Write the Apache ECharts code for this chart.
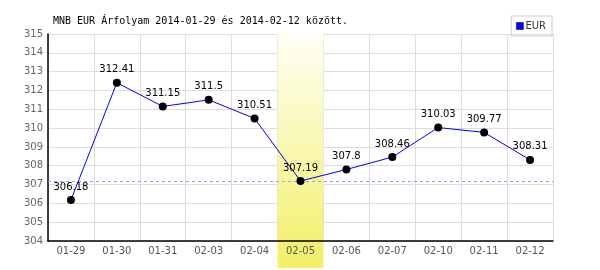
<!DOCTYPE html>
<html><head><meta charset="utf-8">
<script src="https://cdn.jsdelivr.net/npm/echarts@6/dist/echarts.min.js"></script>
<style>html,body{margin:0;padding:0;background:#fff}#c{width:600px;height:270px}</style>
</head><body><div id="c"></div>
<script>
const titleText = 'MNB EUR Árfolyam 2014-01-29 és 2014-02-12 között.';
const categories = ['01-29','01-30','01-31','02-03','02-04','02-05','02-06','02-07','02-10','02-11','02-12'];
const eurValues = [306.18, 312.41, 311.15, 311.5, 310.51, 307.19, 307.8, 308.46, 310.03, 309.77, 308.31];
const highlightCategory = '02-05';
const refValue = 307.19;
const yMin = 304, yMax = 315, yInterval = 1;

const highlightData = categories.map(c => c === highlightCategory ? 1 : null);
const emptyData = categories.map(() => null);

const chart = echarts.init(document.getElementById('c'), null, {renderer: 'canvas'});
chart.setOption({
  animation: false,
  backgroundColor: '#fff',
  title: {
    text: titleText, left: 48, top: 11,
    textStyle: {fontFamily: 'DejaVu Sans Mono', fontSize: 10, fontWeight: 'normal', color: '#000'}
  },
  legend: {
    data: [{name: 'EUR', itemStyle: {color: '#0000ff', borderColor: '#000033', borderWidth: 0.5}}],
    right: 48, top: 16, orient: 'vertical',
    padding: [5, 6, 5, 5], borderColor: '#ccc', borderWidth: 1, borderRadius: 0,
    itemWidth: 7, itemHeight: 7, itemGap: 2,
    icon: 'rect',
    textStyle: {fontFamily: 'DejaVu Sans', fontSize: 10, color: '#333', padding: [0,0,0,-3]}
  },
  grid: [
    {left: 48, right: 47, top: 34, bottom: 29, containLabel: false},
    {left: 48, right: 47, top: 34, bottom: 2, containLabel: false}
  ],
  xAxis: [
    {
      type: 'category', data: categories, gridIndex: 0, boundaryGap: true, z: 0,
      axisLine: {show: false}, axisTick: {show: false}, axisLabel: {show: false},
      splitLine: {show: true, interval: 0, lineStyle: {color: '#ddd', width: 1}}
    },
    {
      type: 'category', data: categories, gridIndex: 1, boundaryGap: true, show: false
    },
    {
      type: 'category', data: categories, gridIndex: 0, boundaryGap: true, z: 5, position: 'bottom',
      axisLine: {show: true, lineStyle: {color: '#000', width: 1.5}},
      axisTick: {show: false},
      axisLabel: {fontFamily: 'DejaVu Sans', fontSize: 10, color: '#555', margin: 5, interval: 0},
      splitLine: {show: false}
    }
  ],
  yAxis: [
    {
      type: 'value', min: yMin, max: yMax, interval: yInterval, gridIndex: 0, z: 0,
      axisLine: {show: true, lineStyle: {color: '#000', width: 1.5}},
      axisTick: {show: false},
      axisLabel: {fontFamily: 'DejaVu Sans', fontSize: 10, color: '#666', margin: 5},
      splitLine: {show: true, lineStyle: {color: '#ddd', width: 1}}
    },
    {type: 'value', min: 0, max: 1, gridIndex: 1, show: false}
  ],
  series: [
    {
      name: 'ref', type: 'line', xAxisIndex: 0, yAxisIndex: 0, data: emptyData, z: 0.5,
      silent: true, symbol: 'none',
      markLine: {
        silent: true, symbol: 'none', label: {show: false},
        lineStyle: {color: '#9999ff', type: [3, 3], width: 1, opacity: 1},
        data: [{yAxis: refValue}]
      }
    },
    {
      name: 'highlight', type: 'bar', xAxisIndex: 1, yAxisIndex: 1, data: highlightData,
      silent: true, z: 1, barWidth: '100%', barGap: '-100%',
      emphasis: {disabled: true},
      itemStyle: {
        color: new echarts.graphic.LinearGradient(0, 0, 0, 1, [
          {offset: 0, color: '#fffff6'},
          {offset: 1, color: '#f1ef66'}
        ])
      }
    },
    {
      name: 'EUR', type: 'line', z: 6, xAxisIndex: 0, yAxisIndex: 0,
      data: eurValues.map(v => ({value: v, itemStyle: {color: '#000'}})),
      itemStyle: {color: '#0000ff'},
      lineStyle: {color: '#0000ff', width: 1},
      symbol: 'circle', symbolSize: 8,
      emphasis: {disabled: true},
      label: {
        show: true, position: 'top', distance: 4,
        fontFamily: 'DejaVu Sans', fontSize: 10, color: '#000'
      }
    }
  ]
});
</script></body></html>
